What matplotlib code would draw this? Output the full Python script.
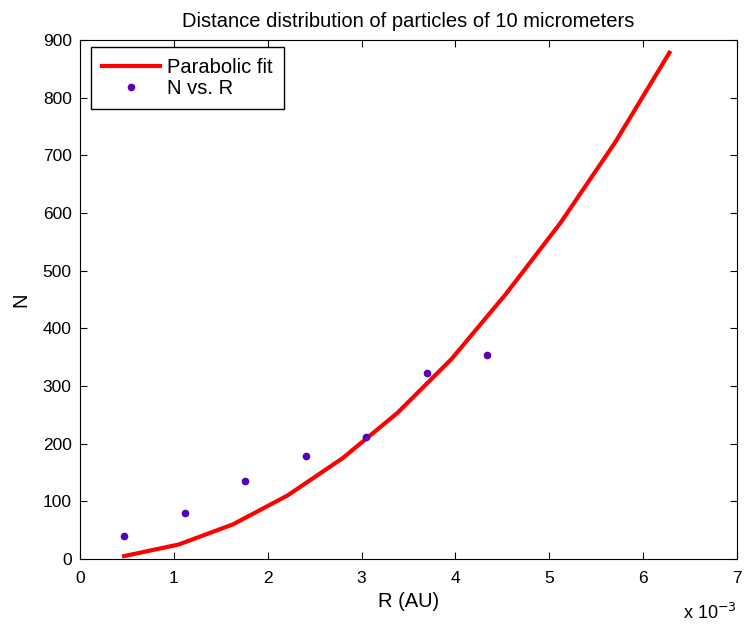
import matplotlib.pyplot as plt

plt.rcParams['font.family'] = ['Liberation Sans', 'DejaVu Sans']

# R in units of 1e-3 AU
fit_r = [0.47, 1.05, 1.63, 2.21, 2.80, 3.38, 3.96, 4.54, 5.12, 5.70, 6.28]
fit_n = [5, 25, 60, 110, 175, 253, 347, 460, 583, 722, 878]

obs_r = [0.47, 1.12, 1.76, 2.41, 3.05, 3.70, 4.34]
obs_n = [39, 79, 135, 179, 211, 323, 354]

fig = plt.figure(figsize=(7.44, 6.24), dpi=100)
ax = fig.add_axes([0.1075, 0.1042, 0.8831, 0.8317])

ax.plot(fit_r, fit_n, color='red', linewidth=3, label='Parabolic fit')
ax.plot(obs_r, obs_n, linestyle='none', marker='o', markersize=4.5,
        color='#5a00b4', label='N vs. R')

ax.set_xlim(0, 7)
ax.set_ylim(0, 900)
ax.set_xticks(range(0, 8))
ax.set_yticks(range(0, 901, 100))
ax.tick_params(direction='in', top=True, right=True, labelsize=12.5, length=5)
ax.tick_params(axis='x', pad=9)
ax.tick_params(axis='y', pad=6)

ax.set_xlabel('R (AU)', fontsize=14.5, labelpad=4)
ax.set_ylabel('N', fontsize=14.5, labelpad=9)
ax.set_title('Distance distribution of particles of 10 micrometers',
             fontsize=14.5, pad=9)
ax.text(1.0, -0.085, r'x 10$^{-3}$', transform=ax.transAxes,
        ha='right', va='top', fontsize=13)

leg = ax.legend(loc='upper left', bbox_to_anchor=(0.0167, 0.9865),
                borderaxespad=0, fontsize=14.5, fancybox=False, framealpha=1,
                edgecolor='black', handlelength=2.9, handletextpad=0.35,
                borderpad=0.55, labelspacing=0.08)
leg.get_frame().set_linewidth(1)

fig.savefig('out.png', dpi=100)
